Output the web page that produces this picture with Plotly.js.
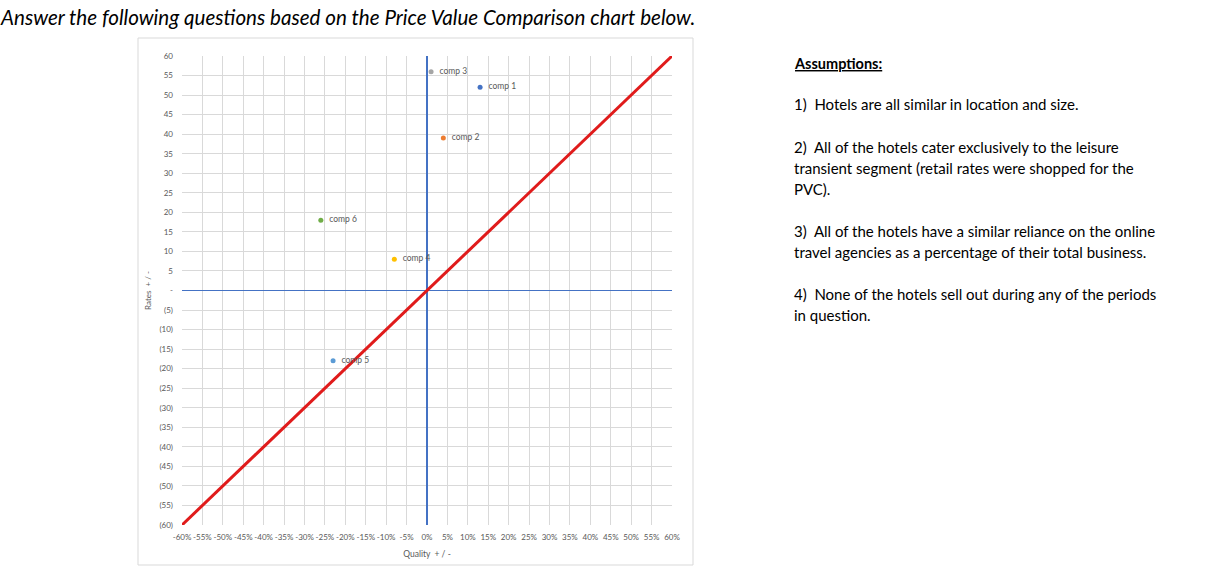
<!DOCTYPE html>
<html><head><meta charset="utf-8">
<script src="https://cdn.plot.ly/plotly-3.0.1.min.js"></script>
<style>html,body{margin:0;padding:0;background:#fff;}#chart{width:1219px;height:566px;}</style>
</head><body><div id="chart"></div>
<script>
// Data
const compNames = ['comp 1','comp 2','comp 3','comp 4','comp 5','comp 6'];
const quality = [0.13, 0.04, 0.01, -0.08, -0.23, -0.26];
const rates = [52, 39, 56, 8, -18, 18];
const compColors = ['#4472C4','#ED7D31','#A5A5A5','#FFC000','#5B9BD5','#70AD47'];
const parityX = [-0.6, 0.6];
const parityY = [-60, 60];
const xTickVals = [-0.6,-0.55,-0.5,-0.45,-0.4,-0.35,-0.3,-0.25,-0.2,-0.15,-0.1,-0.05,0,0.05,0.1,0.15,0.2,0.25,0.3,0.35,0.4,0.45,0.5,0.55,0.6];
const xTickText = ['-60%','-55%','-50%','-45%','-40%','-35%','-30%','-25%','-20%','-15%','-10%','-5%','0%','5%','10%','15%','20%','25%','30%','35%','40%','45%','50%','55%','60%'];
const yTickVals = [60,55,50,45,40,35,30,25,20,15,10,5,0,-5,-10,-15,-20,-25,-30,-35,-40,-45,-50,-55,-60];
const yTickText = ['60','55','50','45','40','35','30','25','20','15','10','5','-','(5)','(10)','(15)','(20)','(25)','(30)','(35)','(40)','(45)','(50)','(55)','(60)'];
const pageTitle = 'Answer the following questions based on the Price Value Comparison chart below.';
const assumptionsHead = 'Assumptions:';
const assumptionLines = [
  '1)  Hotels are all similar in location and size.',
  '2)  All of the hotels cater exclusively to the leisure',
  'transient segment (retail rates were shopped for the',
  'PVC).',
  '3)  All of the hotels have a similar reliance on the online',
  'travel agencies as a percentage of their total business.',
  '4)  None of the hotels sell out during any of the periods',
  'in question.'
];
const assumptionY = [104,147,168,189,231,252,294,315];

// plot area in pixels
const L=182, R=672, T=56, B=525, W=1219, H=566;
const px = x => (x-L)/(R-L);
const py = y => (B-y)/(B-T);
const FONT = 'Lato, "Open Sans", sans-serif';

const traces = [];
traces.push({x: parityX, y: parityY, mode:'lines', line:{color:'#E01B1B', width:3}, hoverinfo:'skip', showlegend:false});
for (let i=0;i<compNames.length;i++){
  traces.push({x:[quality[i]], y:[rates[i]], mode:'markers+text', text:['  '+compNames[i]], textposition:'middle right',
    textfont:{family:FONT, size:8.5, color:'#595959'},
    marker:{color:compColors[i], size:5}, name:compNames[i], showlegend:false, cliponaxis:false});
}

const annotations = [];
annotations.push({xref:'paper', yref:'paper', x:px(-2), y:py(17), xanchor:'left', yanchor:'middle', showarrow:false,
  text:'<i>'+pageTitle+'</i>', font:{family:FONT, size:20.6, color:'#000'}});
annotations.push({xref:'paper', yref:'paper', x:px(792), y:py(63), xanchor:'left', yanchor:'middle', showarrow:false,
  text:'<b><u>'+assumptionsHead+'</u></b>', font:{family:FONT, size:14.5, color:'#000'}});
for (let i=0;i<assumptionLines.length;i++){
  annotations.push({xref:'paper', yref:'paper', x:px(792), y:py(assumptionY[i]), xanchor:'left', yanchor:'middle', showarrow:false,
    text:assumptionLines[i], font:{family:FONT, size:15, color:'#000'}});
}

const layout = {
  width:W, height:H, margin:{l:L, r:W-R, t:T, b:H-B}, paper_bgcolor:'#fff', plot_bgcolor:'#fff',
  showlegend:false,
  xaxis:{range:[-0.6,0.6], tickvals:xTickVals, ticktext:xTickText, showgrid:true, gridcolor:'#D9D9D9', gridwidth:1,
    zeroline:true, zerolinecolor:'#4472C4', zerolinewidth:1.5, showline:false, ticks:'', tickangle:0,
    tickfont:{family:FONT, size:8, color:'#595959'}, fixedrange:true, ticklabelstandoff:6,
    title:{text:'Quality  + / -', font:{family:FONT, size:8.5, color:'#595959'}, standoff:10}},
  yaxis:{range:[-60,60], tickvals:yTickVals, ticktext:yTickText, showgrid:true, gridcolor:'#D9D9D9', gridwidth:1,
    zeroline:true, zerolinecolor:'#4472C4', zerolinewidth:1.5, showline:false, ticks:'',
    tickfont:{family:FONT, size:8, color:'#595959'}, fixedrange:true, ticklabelstandoff:8,
    title:{text:'Rates  + / -', font:{family:FONT, size:8, color:'#595959'}, standoff:6}},
  shapes:[{type:'rect', xref:'paper', yref:'paper', x0:px(138), x1:px(693), y0:py(565), y1:py(38),
    line:{color:'#D9D9D9', width:1}, fillcolor:'rgba(0,0,0,0)', layer:'below'}],
  annotations: annotations
};
Plotly.newPlot('chart', traces, layout, {staticPlot:true, displayModeBar:false});
</script></body></html>
